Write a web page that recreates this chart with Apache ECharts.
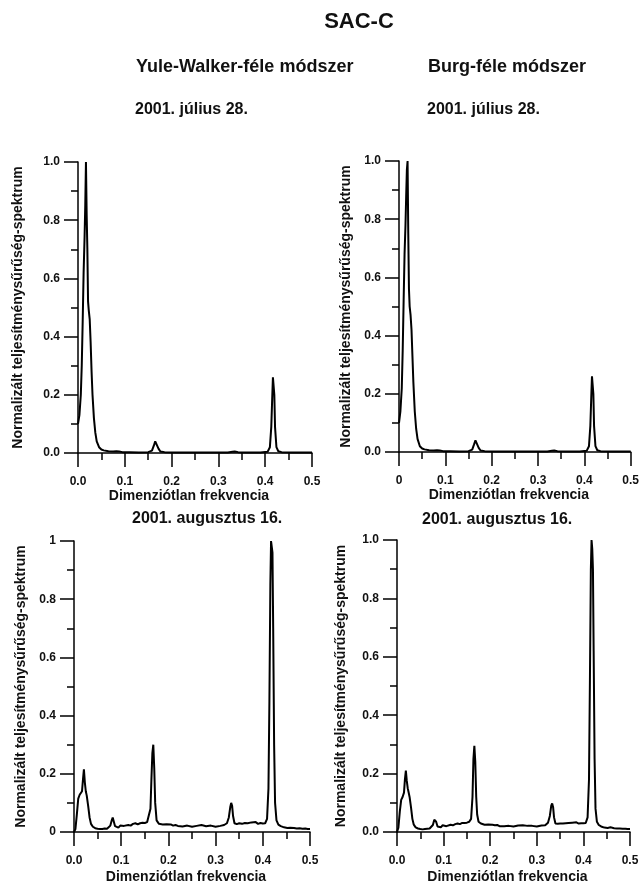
<!DOCTYPE html>
<html>
<head>
<meta charset="utf-8">
<script src="https://cdn.jsdelivr.net/npm/echarts@6/dist/echarts.min.js"></script>
<style>
html,body{margin:0;padding:0;background:#fff;}
#c{width:642px;height:885px;}
</style>
</head>
<body>
<div id="c"></div>
<script>
// ---- Data ----
const xTickLabelsA = ['0.0','0.1','0.2','0.3','0.4','0.5'];
const xTickLabelsB = ['0','0.1','0.2','0.3','0.4','0.5'];
const yTickLabelsA = ['0.0','0.2','0.4','0.6','0.8','1.0'];
const yTickLabelsB = ['0','0.2','0.4','0.6','0.8','1'];

// Top panels: 2001. július 28.
const julFreq = [0,0.003,0.006,0.008,0.010,0.012,0.014,0.0155,0.017,0.0185,0.020,0.0215,0.023,0.025,0.027,0.029,0.031,0.034,0.037,0.040,0.045,0.050,0.055,0.065,0.075,0.082,0.088,0.095,0.110,0.130,0.150,0.158,0.162,0.165,0.167,0.169,0.172,0.176,0.185,0.210,0.250,0.290,0.320,0.330,0.335,0.342,0.360,0.390,0.405,0.410,0.413,0.415,0.4165,0.418,0.4195,0.421,0.424,0.428,0.435,0.460,0.480,0.500];
const julYuleWalker = [0.10,0.13,0.20,0.30,0.45,0.62,0.74,0.85,1.00,0.82,0.70,0.52,0.49,0.46,0.38,0.28,0.20,0.12,0.07,0.04,0.02,0.012,0.009,0.006,0.005,0.006,0.005,0.003,0.003,0.002,0.003,0.008,0.025,0.040,0.044,0.035,0.015,0.005,0.003,0.002,0.002,0.002,0.002,0.004,0.005,0.003,0.002,0.002,0.004,0.02,0.09,0.19,0.26,0.265,0.20,0.09,0.02,0.006,0.003,0.002,0.002,0.002];
const julBurg = [0.10,0.14,0.22,0.35,0.52,0.68,0.78,0.88,0.97,1.00,0.75,0.56,0.50,0.47,0.42,0.33,0.24,0.14,0.08,0.045,0.02,0.012,0.009,0.006,0.005,0.006,0.005,0.003,0.003,0.002,0.003,0.008,0.026,0.040,0.043,0.034,0.014,0.005,0.003,0.002,0.002,0.002,0.002,0.004,0.005,0.003,0.002,0.002,0.004,0.02,0.09,0.19,0.26,0.264,0.20,0.09,0.02,0.006,0.003,0.002,0.002,0.002];

// Bottom panels: 2001. augusztus 16.
const augFreq = [0,0.003,0.006,0.009,0.012,0.015,0.017,0.019,0.021,0.023,0.025,0.027,0.030,0.033,0.036,0.040,0.045,0.050,0.055,0.060,0.065,0.070,0.074,0.077,0.080,0.082,0.084,0.087,0.090,0.094,0.098,0.102,0.106,0.110,0.115,0.120,0.125,0.130,0.135,0.140,0.145,0.150,0.155,0.159,0.162,0.164,0.166,0.168,0.170,0.172,0.175,0.180,0.184,0.188,0.192,0.196,0.200,0.205,0.210,0.215,0.220,0.230,0.240,0.250,0.260,0.270,0.280,0.290,0.300,0.310,0.318,0.324,0.328,0.331,0.333,0.335,0.337,0.340,0.345,0.350,0.356,0.362,0.368,0.372,0.376,0.380,0.385,0.390,0.395,0.400,0.405,0.409,0.412,0.414,0.416,0.4175,0.419,0.4205,0.422,0.424,0.426,0.429,0.433,0.438,0.445,0.452,0.458,0.462,0.466,0.472,0.478,0.484,0.490,0.495,0.500];
const augYuleWalker = [0.000,0.010,0.060,0.115,0.128,0.130,0.140,0.180,0.215,0.170,0.140,0.125,0.090,0.050,0.028,0.018,0.013,0.011,0.010,0.010,0.012,0.011,0.014,0.022,0.040,0.050,0.038,0.020,0.017,0.015,0.022,0.026,0.021,0.020,0.024,0.022,0.028,0.030,0.026,0.030,0.032,0.031,0.034,0.040,0.080,0.180,0.270,0.300,0.220,0.100,0.040,0.028,0.032,0.026,0.025,0.027,0.024,0.026,0.022,0.024,0.021,0.019,0.022,0.018,0.021,0.024,0.020,0.022,0.018,0.021,0.024,0.030,0.050,0.085,0.100,0.090,0.055,0.030,0.027,0.030,0.028,0.031,0.030,0.036,0.033,0.030,0.034,0.028,0.031,0.029,0.030,0.045,0.150,0.450,0.850,1.000,0.980,0.960,0.700,0.300,0.100,0.040,0.025,0.020,0.016,0.014,0.015,0.019,0.014,0.012,0.013,0.011,0.012,0.010,0.010];
const augBurg = [0.000,0.015,0.070,0.110,0.120,0.135,0.180,0.210,0.175,0.150,0.135,0.120,0.085,0.045,0.025,0.016,0.012,0.010,0.009,0.010,0.011,0.012,0.015,0.024,0.042,0.048,0.035,0.019,0.016,0.016,0.023,0.025,0.020,0.021,0.025,0.023,0.027,0.029,0.027,0.031,0.031,0.032,0.035,0.045,0.120,0.250,0.295,0.240,0.120,0.060,0.035,0.029,0.031,0.025,0.026,0.026,0.023,0.025,0.023,0.024,0.020,0.020,0.021,0.019,0.022,0.023,0.021,0.021,0.019,0.022,0.023,0.032,0.055,0.090,0.098,0.085,0.050,0.029,0.028,0.029,0.029,0.030,0.031,0.035,0.032,0.031,0.033,0.029,0.030,0.030,0.031,0.050,0.180,0.520,0.900,1.000,0.970,0.900,0.620,0.250,0.080,0.035,0.024,0.019,0.015,0.014,0.016,0.018,0.013,0.012,0.012,0.011,0.011,0.010,0.010];

// ---- Chart ----
const FONT = 'Liberation Sans, Arial, Helvetica, sans-serif';
const chart = echarts.init(document.getElementById('c'), null, {renderer: 'canvas'});

const grids = [
  {left: 78,  right: 330, top: 162, bottom: 432},
  {left: 399, right: 9,   top: 161, bottom: 433},
  {left: 74,  right: 332, top: 541, bottom: 53},
  {left: 397, right: 12,  top: 540, bottom: 53}
];
const panelXLabels = [xTickLabelsA, xTickLabelsB, xTickLabelsA, xTickLabelsA];
const panelYLabels = [yTickLabelsA, yTickLabelsA, yTickLabelsB, yTickLabelsA];
const panelYNameGap = [53, 46, 46, 49];
const panelXNameGap = [36, 36, 38, 38];
const panelFreq = [julFreq, julFreq, augFreq, augFreq];
const panelVals = [julYuleWalker, julBurg, augYuleWalker, augBurg];

const axisLineStyle = {color: '#000', width: 1.5};
const labelStyle = {color: '#111', fontFamily: FONT, fontWeight: 'bold', fontSize: 12};

const xAxes = grids.map((g, i) => ({
  gridIndex: i, type: 'value', min: 0, max: 0.5, interval: 0.1,
  axisLine: {show: true, onZero: false, lineStyle: axisLineStyle},
  axisTick: {show: true, inside: false, length: 14, lineStyle: axisLineStyle},
  minorTick: {show: true, splitNumber: 2, length: 7, lineStyle: axisLineStyle},
  splitLine: {show: false}, minorSplitLine: {show: false},
  axisLabel: Object.assign({margin: 23, formatter: (v) => panelXLabels[i][Math.round(v * 10)]}, labelStyle),
  name: 'Dimenziótlan frekvencia', nameLocation: 'middle', nameGap: panelXNameGap[i],
  nameTextStyle: {color: '#111', fontFamily: FONT, fontWeight: 'bold', fontSize: 14, padding: [0, 12, 0, 0]}
}));
const yAxes = grids.map((g, i) => ({
  gridIndex: i, type: 'value', min: 0, max: 1, interval: 0.2,
  axisLine: {show: true, onZero: false, lineStyle: axisLineStyle},
  axisTick: {show: true, inside: false, length: 14, lineStyle: axisLineStyle},
  minorTick: {show: true, splitNumber: 2, length: 7, lineStyle: axisLineStyle},
  splitLine: {show: false}, minorSplitLine: {show: false},
  axisLabel: Object.assign({margin: 18, formatter: (v) => panelYLabels[i][Math.round(v * 5)]}, labelStyle),
  name: 'Normalizált teljesítménysűrűség-spektrum', nameLocation: 'middle', nameRotate: 90,
  nameGap: panelYNameGap[i],
  nameTextStyle: {color: '#111', fontFamily: FONT, fontWeight: 'bold', fontSize: 14}
}));
const series = grids.map((g, i) => ({
  type: 'line', xAxisIndex: i, yAxisIndex: i, showSymbol: false, symbol: 'none',
  lineStyle: {color: '#000', width: 2}, smooth: false,
  data: panelFreq[i].map((f, k) => [f, panelVals[i][k]])
}));

function txt(x, y, text, size, align) {
  return {type: 'text', x: x, y: y, silent: true,
    style: {text: text, fill: '#111', font: 'bold ' + size + 'px ' + FONT, align: align || 'left', verticalAlign: 'middle'}};
}

chart.setOption({
  backgroundColor: '#fff',
  animation: false,
  grid: grids.map(g => Object.assign({containLabel: false}, g)),
  xAxis: xAxes,
  yAxis: yAxes,
  series: series,
  graphic: [
    txt(359, 22, 'SAC-C', 22, 'center'),
    txt(136, 67, 'Yule-Walker-féle módszer', 18),
    txt(428, 67, 'Burg-féle módszer', 18),
    txt(135, 110, '2001. július 28.', 16),
    txt(427, 110, '2001. július 28.', 16),
    txt(132, 519, '2001. augusztus 16.', 16),
    txt(422, 520, '2001. augusztus 16.', 16)
  ]
});
</script>
</body>
</html>
